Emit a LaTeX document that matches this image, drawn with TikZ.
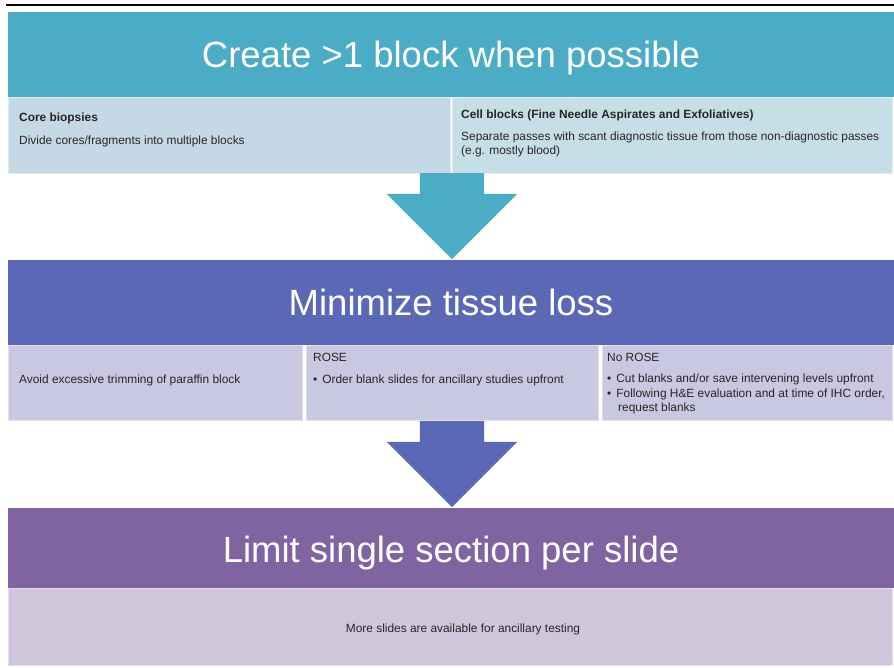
\documentclass[tikz,border=0pt]{standalone}
\usepackage{fontspec}
\setmainfont{Liberation Sans}
\usetikzlibrary{shapes.arrows}

\definecolor{createband}{HTML}{4BACC6}
\definecolor{createleft}{HTML}{C5D8E5}
\definecolor{createright}{HTML}{C6DFE6}
\definecolor{tissueband}{HTML}{5A68B5}
\definecolor{tissuecell}{HTML}{C8C8E0}
\definecolor{limitband}{HTML}{8064A2}
\definecolor{limitcell}{HTML}{D0C6DC}

\begin{document}
\begin{tikzpicture}[x=1pt, y=-1pt,
    band/.style={fill=#1, inner sep=0pt, anchor=north west, minimum width=886pt},
    cell/.style={fill=#1, draw=white!45!#1, line width=1pt, inner sep=0pt, anchor=north west},
    heading/.style={text=white, font=\fontsize{36.5}{40}\selectfont, anchor=base, inner sep=0pt},
    txt/.style={text=black!85, font=\fontsize{11.9}{14}\selectfont, anchor=base west, inner sep=0pt},
    downarrow/.style={single arrow, fill=#1, rotate=-90, anchor=tail, minimum height=86pt,
        single arrow head extend=33pt, inner ysep=32pt, inner xsep=0pt}]
    \useasboundingbox (0,0) rectangle (894,668);

    % Rule:
    \draw[line width=2pt] (6,5) -- (894,5);

    % Step 1:
    \node[band=createband, minimum height=85pt] (create) at (8,12) {};
    \node[heading] (createtitle) at (451,68) {Create >1 block when possible};
    \node[cell=createleft, minimum width=442pt, minimum height=76pt] (createL) at (8,97) {};
    \node[cell=createright, minimum width=440pt, minimum height=76pt] (createR) at (452,97) {};
    \node[txt, font=\fontsize{11.9}{14}\selectfont\bfseries] (core) at (19,122) {Core biopsies};
    \node[txt] (coredesc) at (19,145) {Divide cores/fragments into multiple blocks};
    \node[txt, font=\fontsize{11.9}{14}\selectfont\bfseries] (cellblk) at (461,119) {Cell blocks (Fine Needle Aspirates and Exfoliatives)};
    \node[txt] (cellblkA) at (461,141) {Separate passes with scant diagnostic tissue from those non-diagnostic passes};
    \node[txt] (cellblkB) at (461,155) {(e.g. mostly blood)};

    \node[downarrow=createband] (arrA) at (452,173) {};

    % Step 2:
    \node[band=tissueband, minimum height=85pt] (tissue) at (8,260) {};
    \node[heading] (tissuetitle) at (451,316) {Minimize tissue loss};
    \node[cell=tissuecell, minimum width=294pt, minimum height=75pt] (tissueL) at (8,345) {};
    \node[cell=tissuecell, minimum width=292pt, minimum height=75pt] (tissueM) at (306,345) {};
    \node[cell=tissuecell, minimum width=290pt, minimum height=75pt] (tissueR) at (602,345) {};
    \node[txt] (avoid) at (19,383) {Avoid excessive trimming of paraffin block};
    \node[txt] (rose) at (313,361) {ROSE};
    \node[txt] (roseA) at (313,383) {•\hspace{5pt}Order blank slides for ancillary studies upfront};
    \node[txt] (norose) at (607,361) {No ROSE};
    \node[txt] (noroseA) at (607,382) {•\hspace{5pt}Cut blanks and/or save intervening levels upfront};
    \node[txt] (noroseB) at (607,397) {•\hspace{5pt}Following H\&E evaluation and at time of IHC order,};
    \node[txt] (noroseC) at (618,411) {request blanks};

    \node[downarrow=tissueband] (arrB) at (452,421) {};

    % Step 3:
    \node[band=limitband, minimum height=80pt] (limit) at (8,508) {};
    \node[heading] (limittitle) at (451,562) {Limit single section per slide};
    \node[cell=limitcell, minimum width=884pt, minimum height=77pt] (limitbox) at (8,588) {};
    \node[txt, anchor=base] (more) at (463,632) {More slides are available for ancillary testing};
\end{tikzpicture}
\end{document}
